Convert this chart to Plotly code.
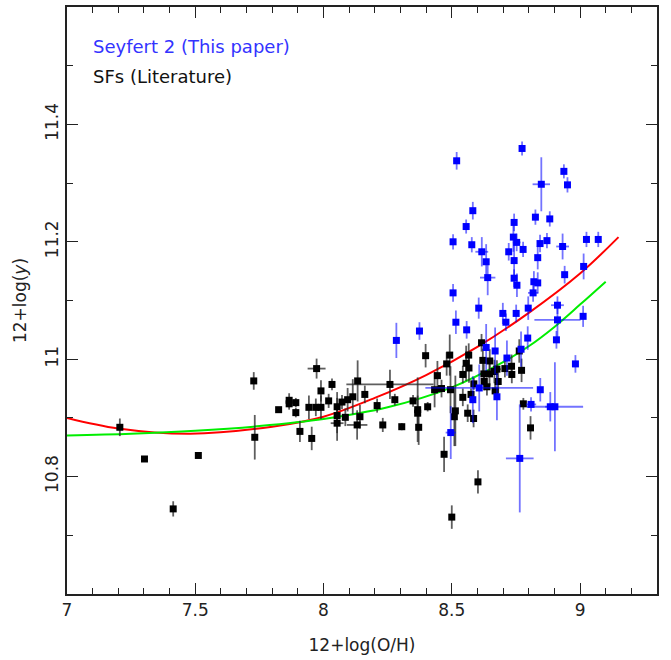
import plotly.graph_objects as go

# ---- Seyfert 2 (This paper) ----
sy_x = [8.774, 8.519, 8.937, 8.849, 8.951, 8.582, 8.826, 8.882, 8.743, 8.556,
        8.740, 8.505, 8.753, 8.871, 9.025, 9.071, 8.844, 8.578, 8.932, 8.778,
        8.617, 8.722, 8.835, 8.634, 8.743, 9.014, 8.640, 8.940, 8.743, 8.754,
        8.820, 8.835, 8.817, 8.505, 8.605, 8.798, 8.912, 9.012, 8.699, 8.751,
        8.516, 8.711, 8.558, 8.912, 8.284, 8.374, 8.634, 8.669, 8.715, 8.770,
        8.796, 8.908, 8.982, 8.607, 8.582, 8.676, 8.845, 8.809, 8.884, 8.902,
        8.496, 8.765]
sy_y = [11.359, 11.338, 11.320, 11.298, 11.297, 11.253, 11.242, 11.239, 11.233, 11.226,
        11.208, 11.200, 11.199, 11.202, 11.204, 11.204, 11.197, 11.195, 11.192, 11.187,
        11.183, 11.183, 11.173, 11.166, 11.168, 11.158, 11.139, 11.144, 11.138, 11.126,
        11.132, 11.130, 11.113, 11.113, 11.087, 11.087, 11.092, 11.073, 11.078, 11.078,
        11.063, 11.063, 11.050, 11.067, 11.032, 11.048, 11.020, 11.014, 11.002, 11.017,
        11.036, 11.033, 10.992, 10.951, 10.931, 10.936, 10.948, 10.923, 10.919, 10.919,
        10.875, 10.831]
sy_ex = [0.005, 0.012, 0.0, 0.034, 0.0, 0.0, 0.0, 0.0, 0.0, 0.012,
         0.0, 0.0, 0.015, 0.0, 0.0, 0.0, 0.0, 0.0, 0.025, 0.0,
         0.025, 0.0, 0.0, 0.0, 0.0, 0.01, 0.030, 0.0, 0.0, 0.0,
         0.0, 0.0, 0.02, 0.01, 0.01, 0.0, 0.025, 0.0, 0.0, 0.0,
         0.0, 0.0, 0.0, 0.09, 0.012, 0.008, 0.0, 0.0, 0.0, 0.0,
         0.0, 0.0, 0.0, 0.21, 0.01, 0.0, 0.01, 0.02, 0.02, 0.11,
         0.02, 0.054]
sy_ey = [0.012, 0.015, 0.012, 0.046, 0.013, 0.015, 0.013, 0.013, 0.015, 0.012,
         0.025, 0.013, 0.015, 0.013, 0.013, 0.013, 0.015, 0.013, 0.022, 0.013,
         0.025, 0.015, 0.020, 0.030, 0.030, 0.022, 0.030, 0.015, 0.015, 0.020,
         0.018, 0.018, 0.015, 0.015, 0.018, 0.020, 0.015, 0.018, 0.018, 0.015,
         0.020, 0.015, 0.015, 0.030, 0.030, 0.015, 0.040, 0.040, 0.030, 0.030,
         0.020, 0.015, 0.015, 0.040, 0.040, 0.040, 0.020, 0.012, 0.025, 0.076,
         0.045, 0.092]

# ---- SFs (Literature) ----
sf_x = [7.206, 7.302, 7.414, 7.512, 7.728, 7.732, 7.825, 7.866, 7.866, 7.892,
        7.892, 7.908, 7.943, 7.954, 7.973, 7.970, 7.990, 7.990, 8.020, 8.033,
        8.053, 8.053, 8.053, 8.072, 8.085, 8.094, 8.114, 8.133, 8.131, 8.142,
        8.161, 8.209, 8.231, 8.259, 8.278, 8.305, 8.349, 8.367, 8.367, 8.371,
        8.398, 8.406, 8.444, 8.433, 8.460, 8.480, 8.492, 8.495, 8.470, 8.500,
        8.514, 8.510, 8.543, 8.575, 8.562, 8.585, 8.586, 8.566, 8.556, 8.567,
        8.602, 8.616, 8.621, 8.648, 8.626, 8.637, 8.625, 8.647, 8.666, 8.681,
        8.669, 8.676, 8.707, 8.733, 8.734, 8.763, 8.772, 8.779, 8.807, 8.543]
sf_y = [10.884, 10.830, 10.745, 10.836, 10.963, 10.867, 10.914, 10.930, 10.924, 10.926,
        10.909, 10.877, 10.918, 10.865, 10.984, 10.918, 10.918, 10.946, 10.929, 10.957,
        10.919, 10.904, 10.891, 10.927, 10.901, 10.931, 10.936, 10.963, 10.888, 10.902,
        10.940, 10.921, 10.888, 10.957, 10.931, 10.885, 10.929, 10.914, 10.908, 10.884,
        11.006, 10.919, 10.972, 10.948, 10.950, 10.992, 11.007, 10.948, 10.838, 10.731,
        10.912, 10.902, 10.935, 10.940, 10.908, 10.899, 10.958, 11.007, 10.993, 10.985,
        10.791, 11.028, 10.998, 10.997, 10.962, 10.953, 10.975, 10.975, 10.979, 10.962,
        10.946, 10.983, 10.984, 10.988, 10.974, 11.014, 10.981, 10.924, 10.883, 10.974]
sf_ex = [0.0, 0.0, 0.0, 0.0, 0.0, 0.0, 0.0, 0.0, 0.0, 0.0,
         0.0, 0.0, 0.0, 0.0, 0.035, 0.0, 0.0, 0.0, 0.0, 0.0,
         0.0, 0.0, 0.025, 0.0, 0.0, 0.0, 0.0, 0.0, 0.04, 0.0,
         0.0, 0.0, 0.0, 0.17, 0.0, 0.0, 0.0, 0.0, 0.0, 0.0,
         0.0, 0.0, 0.0, 0.0, 0.0, 0.0, 0.0, 0.0, 0.0, 0.0,
         0.0, 0.0, 0.0, 0.0, 0.0, 0.0, 0.0, 0.0, 0.0, 0.0,
         0.0, 0.0, 0.0, 0.0, 0.0, 0.0, 0.0, 0.0, 0.0, 0.0,
         0.0, 0.015, 0.0, 0.0, 0.0, 0.0, 0.0, 0.0, 0.0, 0.0]
sf_ey = [0.015, 0.004, 0.013, 0.004, 0.015, 0.038, 0.004, 0.012, 0.010, 0.008,
         0.008, 0.018, 0.020, 0.020, 0.017, 0.015, 0.020, 0.018, 0.012, 0.010,
         0.025, 0.030, 0.030, 0.012, 0.015, 0.020, 0.030, 0.035, 0.025, 0.020,
         0.015, 0.012, 0.012, 0.025, 0.010, 0.006, 0.010, 0.055, 0.030, 0.030,
         0.020, 0.008, 0.025, 0.030, 0.015, 0.020, 0.035, 0.040, 0.030, 0.020,
         0.060, 0.050, 0.015, 0.010, 0.015, 0.015, 0.010, 0.020, 0.030, 0.025,
         0.020, 0.015, 0.020, 0.020, 0.015, 0.015, 0.020, 0.020, 0.020, 0.020,
         0.015, 0.015, 0.015, 0.020, 0.015, 0.020, 0.020, 0.010, 0.020, 0.015]

# ---- fitted curves ----
red_x = [7.0, 7.2, 7.48, 7.8, 8.0, 8.2, 8.4, 8.6, 8.8, 9.0, 9.15]
red_y = [10.900, 10.882, 10.873, 10.885, 10.902, 10.934, 10.973, 11.021, 11.079, 11.146, 11.208]
green_x = [7.0, 7.25, 7.5, 7.75, 8.0, 8.25, 8.5, 8.7, 8.8, 8.9, 9.0, 9.1]
green_y = [10.870, 10.873, 10.878, 10.886, 10.898, 10.918, 10.952, 10.995, 11.022, 11.055, 11.093, 11.132]

x_ticks = [7, 7.5, 8, 8.5, 9]
x_tick_text = ["7", "7.5", "8", "8.5", "9"]
y_ticks = [10.8, 11, 11.2, 11.4]
y_tick_text = ["10.8", "11", "11.2", "11.4"]

FONT = "DejaVu Sans"
AX = "#222222"

fig = go.Figure()
fig.add_trace(go.Scatter(x=red_x, y=red_y, mode="lines", line=dict(color="#ff0000", width=2, shape="spline"),
                         showlegend=False, hoverinfo="skip"))
fig.add_trace(go.Scatter(x=green_x, y=green_y, mode="lines", line=dict(color="#00ee00", width=2, shape="spline"),
                         showlegend=False, hoverinfo="skip"))
fig.add_trace(go.Scatter(
    x=sf_x, y=sf_y, mode="markers",
    marker=dict(symbol="square", size=7, color="black"),
    error_x=dict(type="data", array=sf_ex, color="rgba(40,40,40,0.75)", thickness=1.8, width=0),
    error_y=dict(type="data", array=sf_ey, color="rgba(40,40,40,0.75)", thickness=1.8, width=0),
    name="SFs (Literature)", showlegend=False))
fig.add_trace(go.Scatter(
    x=sy_x, y=sy_y, mode="markers",
    marker=dict(symbol="square", size=7, color="#0000ff"),
    error_x=dict(type="data", array=sy_ex, color="rgba(0,0,255,0.55)", thickness=1.8, width=0),
    error_y=dict(type="data", array=sy_ey, color="rgba(0,0,255,0.55)", thickness=1.8, width=0),
    name="Seyfert 2 (This paper)", showlegend=False))

fig.add_annotation(x=0.04, y=0.932, xref="paper", yref="paper", xanchor="left", yanchor="middle",
                   text="Seyfert 2 (This paper)", showarrow=False,
                   font=dict(family=FONT, size=18, color="#3333ff"))
fig.add_annotation(x=0.04, y=0.881, xref="paper", yref="paper", xanchor="left", yanchor="middle",
                   text="SFs (Literature)", showarrow=False,
                   font=dict(family=FONT, size=18, color="#111111"))

axis_common = dict(showgrid=False, zeroline=False, showline=True, linecolor=AX, linewidth=1.5,
                   mirror="allticks", ticks="inside", ticklen=11, tickwidth=1.2, tickcolor=AX,
                   tickfont=dict(family=FONT, size=17, color=AX))
fig.update_xaxes(range=[7, 9.3], tickvals=x_ticks, ticktext=x_tick_text,
                 minor=dict(dtick=0.1, tick0=7, ticks="inside", ticklen=6, tickcolor=AX, tickwidth=1.2),
                 title=dict(text="12+log(O/H)", font=dict(family=FONT, size=17, color=AX), standoff=20),
                 **axis_common)
fig.update_yaxes(range=[10.6, 11.6], tickvals=y_ticks, ticktext=y_tick_text, tickangle=-90,
                 minor=dict(dtick=0.1, tick0=10.6, ticks="inside", ticklen=6, tickcolor=AX, tickwidth=1.2),
                 title=dict(text="12+log(<i>y</i>)", font=dict(family=FONT, size=17, color=AX), standoff=12),
                 **axis_common)

fig.update_layout(width=671, height=660, margin=dict(l=67, r=14, t=5, b=66),
                  paper_bgcolor="white", plot_bgcolor="white", showlegend=False)

fig.write_html("out.html")
